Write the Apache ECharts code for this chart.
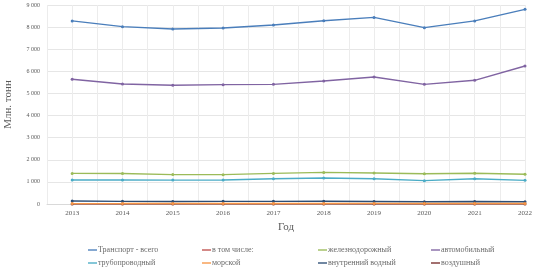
<!DOCTYPE html>
<html><head><meta charset="utf-8">
<script src="https://cdn.jsdelivr.net/npm/echarts@6/dist/echarts.min.js"></script>
<style>html,body{margin:0;padding:0;background:#fff}#c{width:537px;height:274px}</style>
</head><body><div id="c"></div>
<script>
var years = [2013, 2014, 2015, 2016, 2017, 2018, 2019, 2020, 2021, 2022];
var seriesNames = ['Транспорт - всего', 'в том числе:', 'железнодорожный', 'автомобильный', 'трубопроводный', 'морской', 'внутренний водный', 'воздушный'];
var total    = [8280, 8020, 7915, 7960, 8095, 8290, 8440, 7975, 8280, 8805];
var inclusive = [null, null, null, null, null, null, null, null, null, null];
var rail     = [1385, 1380, 1330, 1328, 1385, 1430, 1400, 1370, 1390, 1345];
var auto     = [5640, 5427, 5368, 5397, 5412, 5563, 5744, 5412, 5594, 6241];
var pipeline = [1085, 1085, 1080, 1085, 1145, 1176, 1145, 1055, 1145, 1070];
var sea      = [18, 20, 25, 22, 25, 26, 27, 25, 24, 23];
var river    = [135, 120, 115, 120, 120, 125, 115, 105, 110, 105];
var air      = [1, 1, 1, 1, 1, 1, 1, 1, 1, 1];
var yTicks = [0, 1000, 2000, 3000, 4000, 5000, 6000, 7000, 8000, 9000];
var colors = ['#4a7ebb', '#c0504d', '#9bbb59', '#8064a2', '#4bacc6', '#f79646', '#2c4d75', '#772c2a'];
var allData = [total, inclusive, rail, auto, pipeline, sea, river, air];

var chart = echarts.init(document.getElementById('c'), null, {renderer: 'canvas'});
var serif = 'Liberation Serif';
function fmt(v) { return String(v).replace(/\B(?=(\d{3})+(?!\d))/g, ' '); }

var series = allData.map(function (arr, i) {
  return {
    name: seriesNames[i], type: 'line',
    data: years.map(function (y, j) { return [y, arr[j]]; }),
    lineStyle: {width: 1.4, color: colors[i]},
    itemStyle: {color: colors[i]},
    symbol: 'circle', symbolSize: 3, showSymbol: true,
    z: 10 - i
  };
});

var legendPos = [[88, 246], [202, 246], [318, 246], [431, 246], [88, 259], [202, 259], [318, 259], [431, 259]];
var legends = seriesNames.map(function (n, i) {
  return {
    data: [{name: n, icon: 'path://M0,0L10,0L10,1.5L0,1.5Z'}],
    left: legendPos[i][0], top: legendPos[i][1], padding: 0,
    itemWidth: 9, itemHeight: 2, itemGap: 0,
    textStyle: {fontFamily: serif, fontSize: 8, color: '#6a6a6a', padding: [0, 0, 0, -4]},
    selectedMode: false
  };
});

chart.setOption({
  animation: false,
  color: colors,
  grid: {left: 47, right: 12, top: 5, bottom: 70, containLabel: false, outerBoundsMode: 'none'},
  legend: legends,
  xAxis: {
    type: 'value', min: 2012.5, max: 2022, interval: 0.5,
    name: 'Год', nameLocation: 'middle', nameGap: 18,
    nameTextStyle: {fontFamily: serif, fontSize: 11, color: '#595959'},
    axisLine: {show: true, lineStyle: {color: '#d9d9d9'}},
    axisTick: {show: false},
    splitLine: {show: true, lineStyle: {color: '#ececec', width: 1}},
    axisLabel: {
      fontFamily: serif, fontSize: 7, color: '#595959', margin: 6,
      showMinLabel: false,
      formatter: function (v) { return Number.isInteger(v) ? String(v) : ''; }
    }
  },
  yAxis: {
    type: 'value', min: 0, max: 9000, interval: 1000,
    name: 'Млн. тонн', nameLocation: 'middle', nameGap: 33, nameRotate: 90,
    nameTextStyle: {fontFamily: serif, fontSize: 11, color: '#595959'},
    axisLine: {show: false}, axisTick: {show: false},
    splitLine: {show: true, lineStyle: {color: '#e6e6e6', width: 1}},
    axisLabel: {fontFamily: serif, fontSize: 6, color: '#595959', margin: 7,
      formatter: function (v) { return yTicks.indexOf(v) >= 0 ? fmt(v) : ''; }}
  },
  series: series
});
</script></body></html>
